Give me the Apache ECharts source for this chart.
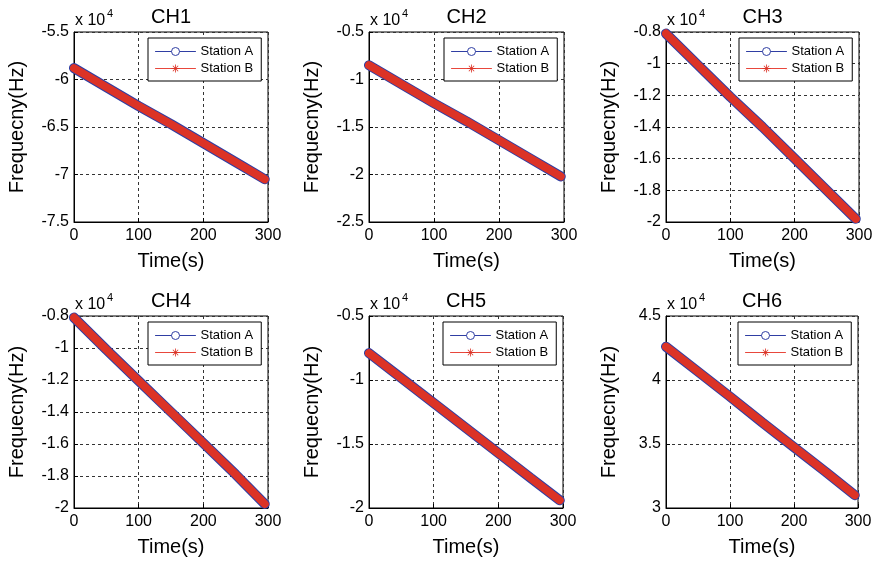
<!DOCTYPE html>
<html><head><meta charset="utf-8">
<script src="https://cdn.jsdelivr.net/npm/echarts@6/dist/echarts.min.js"></script>
<style>html,body{margin:0;padding:0;background:#fff}#c{width:880px;height:564px}</style>
</head><body><div id="c"></div>
<script>
// ---- data ----
const channels = ['CH1', 'CH2', 'CH3', 'CH4', 'CH5', 'CH6'];
const seriesNames = ['Station A', 'Station B'];
const timeS = [0, 50, 100, 150, 200, 250, 295];
// frequencies in Hz (axis shown in units of 1e4)
const ch1A = [-58800, -60800, -62800, -64700, -66700, -68700, -70500];
const ch1B = [-58800, -60800, -62800, -64700, -66700, -68700, -70500];
const ch2A = [-8500, -10500, -12500, -14400, -16400, -18400, -20200];
const ch2B = [-8500, -10500, -12500, -14400, -16400, -18400, -20200];
const ch3A = [-8100, -10100, -12100, -14000, -16000, -18000, -19800];
const ch3B = [-8100, -10100, -12100, -14000, -16000, -18000, -19800];
const ch4A = [-8100, -10100, -12050, -14000, -15950, -17900, -19750];
const ch4B = [-8100, -10100, -12050, -14000, -15950, -17900, -19750];
const ch5A = [-7900, -9850, -11800, -13750, -15700, -17650, -19400];
const ch5B = [-7900, -9850, -11800, -13750, -15700, -17650, -19400];
const ch6A = [42600, 40650, 38700, 36700, 34750, 32800, 31000];
const ch6B = [42600, 40650, 38700, 36700, 34750, 32800, 31000];
const xTicks = [0, 100, 200, 300];
const yMins = [-75000, -25000, -20000, -20000, -20000, 30000];
const yMaxs = [-55000, -5000, -8000, -8000, -5000, 45000];
const yIntervals = [5000, 5000, 2000, 2000, 5000, 5000];
const stationA = [ch1A, ch2A, ch3A, ch4A, ch5A, ch6A];
const stationB = [ch1B, ch2B, ch3B, ch4B, ch5B, ch6B];

// ---- layout / style ----
const FONT = 'Arial, "Liberation Sans", Helvetica, sans-serif';
const BLUE = '#2f3ea3';
const RED = '#dc3326';
const gridPos = [
  {left: 74, top: 32, width: 194, height: 190},
  {left: 369, top: 32, width: 195, height: 190},
  {left: 666, top: 32, width: 193, height: 190},
  {left: 74, top: 316, width: 194, height: 192},
  {left: 369, top: 316, width: 194, height: 192},
  {left: 666, top: 316, width: 192, height: 192}
];
const ASTERISK = 'path://M4.5,0h1v10h-1z M0,4.5h10v1h-10z M1.3,2l0.7,-0.7l6.7,6.7l-0.7,0.7z M8,1.3l0.7,0.7l-6.7,6.7l-0.7,-0.7z';

const grid = [], xAxis = [], yAxis = [], series = [], legend = [], graphic = [];
const fmt = v => String(parseFloat((v / 1e4).toFixed(2)));

gridPos.forEach((g, i) => {
  grid.push({left: g.left, top: g.top, width: g.width, height: g.height,
    show: true, borderColor: '#000', borderWidth: 1, backgroundColor: '#fff'});
  xAxis.push({
    type: 'value', gridIndex: i, min: xTicks[0], max: xTicks[xTicks.length - 1], interval: 100,
    name: 'Time(s)', nameLocation: 'middle', nameGap: 29,
    nameTextStyle: {fontSize: 20, color: '#000', fontFamily: FONT},
    axisLine: {show: true, onZero: false, lineStyle: {color: '#000', width: 1}},
    axisTick: {show: true, inside: true, length: 4, lineStyle: {color: '#000'}},
    axisLabel: {fontSize: 16, color: '#000', fontFamily: FONT, margin: 6},
    splitLine: {show: true, lineStyle: {color: '#333', type: [3, 3], width: 1}}
  });
  yAxis.push({
    type: 'value', gridIndex: i, min: yMins[i], max: yMaxs[i], interval: yIntervals[i],
    name: 'Frequecny(Hz)', nameLocation: 'middle', nameGap: 47,
    nameTextStyle: {fontSize: 20, color: '#000', fontFamily: FONT},
    axisLine: {show: true, onZero: false, lineStyle: {color: '#000', width: 1}},
    axisTick: {show: true, inside: true, length: 4, lineStyle: {color: '#000'}},
    axisLabel: {fontSize: 16, color: '#000', fontFamily: FONT, margin: 5, formatter: fmt},
    splitLine: {show: true, lineStyle: {color: '#333', type: [3, 3], width: 1}}
  });
  series.push({
    name: seriesNames[0], type: 'line', xAxisIndex: i, yAxisIndex: i,
    data: timeS.map((t, k) => [t, stationA[i][k]]),
    symbol: 'circle', showSymbol: false, silent: true, z: 3,
    lineStyle: {color: BLUE, width: 10, cap: 'round'}, itemStyle: {color: BLUE}
  });
  series.push({
    name: seriesNames[1], type: 'line', xAxisIndex: i, yAxisIndex: i,
    data: timeS.map((t, k) => [t, stationB[i][k]]),
    symbol: ASTERISK, showSymbol: false, silent: true, z: 4,
    lineStyle: {color: RED, width: 8, cap: 'round'}, itemStyle: {color: RED}
  });
  legend.push({
    orient: 'vertical', left: g.left + g.width - 120, top: g.top + 6,
    backgroundColor: '#fff', borderColor: '#000', borderWidth: 1, borderRadius: 0,
    padding: [7, 8, 6, 7], itemGap: 4, itemWidth: 40, itemHeight: 10,
    selectedMode: false,
    textStyle: {fontSize: 13, color: '#000', fontFamily: FONT},
    data: [
      {name: seriesNames[0], itemStyle: {color: '#fff', borderColor: BLUE, borderWidth: 1}, lineStyle: {color: BLUE, width: 1}},
      {name: seriesNames[1], itemStyle: {color: RED, borderWidth: 0}, lineStyle: {color: '#e8473c', width: 1}}
    ]
  });
  graphic.push({type: 'text', x: g.left + g.width / 2, y: g.top - 25,
    style: {text: channels[i], font: '20px ' + FONT, fill: '#000', align: 'center', textAlign: 'center', verticalAlign: 'top', textVerticalAlign: 'top'}});
  graphic.push({type: 'text', x: g.left + 1, y: g.top - 19,
    style: {text: 'x 10', font: '16px ' + FONT, fill: '#000', align: 'left', textAlign: 'left', verticalAlign: 'top', textVerticalAlign: 'top'}});
  graphic.push({type: 'text', x: g.left + 33, y: g.top - 24,
    style: {text: '4', font: '11px ' + FONT, fill: '#000', align: 'left', textAlign: 'left', verticalAlign: 'top', textVerticalAlign: 'top'}});
});

const chart = echarts.init(document.getElementById('c'), null, {renderer: 'canvas'});
chart.setOption({
  backgroundColor: '#fff', animation: false,
  textStyle: {fontFamily: FONT},
  grid, xAxis, yAxis, series, legend, graphic
});
</script></body></html>
